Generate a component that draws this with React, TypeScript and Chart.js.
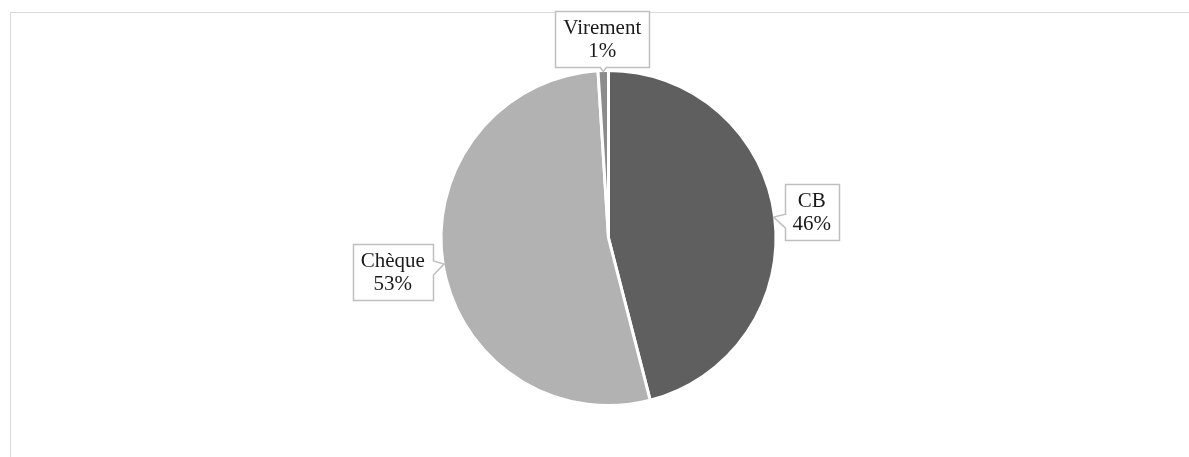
import React, { useEffect, useRef } from "react";
import { Chart, registerables } from "chart.js";

Chart.register(...registerables);

const categories = ["CB", "Chèque", "Virement"];
const values = [46, 53, 1];
const colors = ["#5f5f5f", "#b2b2b2", "#8c8c8c"];

const FONT = '21px "Liberation Serif", "Times New Roman", serif';

const calloutPlugin = {
  id: "callouts",
  afterDatasetsDraw(chart: any) {
    const ctx = chart.ctx as CanvasRenderingContext2D;
    const meta = chart.getDatasetMeta(0);
    const data = chart.data.datasets[0].data as number[];
    const total = data.reduce((a, b) => a + b, 0);
    ctx.save();
    ctx.font = FONT;
    meta.data.forEach((arc: any, i: number) => {
      const { x, y, startAngle, endAngle, outerRadius } = arc.getProps(
        ["x", "y", "startAngle", "endAngle", "outerRadius"],
        true
      );
      const mid = (startAngle + endAngle) / 2;
      const ux = Math.cos(mid);
      const uy = Math.sin(mid);
      const lines = [String(chart.data.labels[i]), Math.round((data[i] / total) * 100) + "%"];
      const tw = Math.max(...lines.map((l) => ctx.measureText(l).width));
      const lineH = 23;
      const w = Math.round(tw + 16);
      const h = lineH * lines.length + 10;
      const gap = 2 + 5 * Math.abs(ux);
      const proj = (Math.abs(ux) * w) / 2 + (Math.abs(uy) * h) / 2;
      const d = outerRadius + gap + proj;
      const bx = x + ux * d;
      const by = y + uy * d;
      const l = Math.round(bx - w / 2) + 0.5;
      const t = Math.round(by - h / 2) + 0.5;
      const r = l + w;
      const b = t + h;
      const tip = { x: x + ux * (outerRadius - 1), y: y + uy * (outerRadius - 1) };
      const dx = tip.x - bx;
      const dy = tip.y - by;
      const pts: [number, number][] = [];
      const notchW = 14;
      const clamp = (v: number, lo: number, hi: number) => Math.max(lo, Math.min(hi, v));
      if (Math.abs(dx) / (w / 2) > Math.abs(dy) / (h / 2)) {
        const y0 = clamp(tip.y - 3, t + 4, b - 4 - notchW);
        const y1 = y0 + notchW;
        if (dx < 0) {
          pts.push([l, t], [r, t], [r, b], [l, b], [l, y1], [tip.x, tip.y], [l, y0]);
        } else {
          pts.push([l, t], [r, t], [r, y0], [tip.x, tip.y], [r, y1], [r, b], [l, b]);
        }
      } else {
        const xa = clamp(tip.x - 3, l + 4, r - 8);
        const xb = xa + 6;
        if (dy < 0) {
          pts.push([l, t], [xa, t], [tip.x, tip.y], [xb, t], [r, t], [r, b], [l, b]);
        } else {
          pts.push([l, t], [r, t], [r, b], [xb, b], [tip.x, tip.y], [xa, b], [l, b]);
        }
      }
      ctx.beginPath();
      pts.forEach(([px, py], k) => (k === 0 ? ctx.moveTo(px, py) : ctx.lineTo(px, py)));
      ctx.closePath();
      ctx.fillStyle = "#ffffff";
      ctx.fill();
      ctx.lineWidth = 1.5;
      ctx.strokeStyle = "#bfbfbf";
      ctx.stroke();
      ctx.fillStyle = "#1a1a1a";
      ctx.textAlign = "center";
      ctx.textBaseline = "middle";
      const cy0 = by - ((lines.length - 1) * lineH) / 2;
      lines.forEach((txt, k) => ctx.fillText(txt, bx, cy0 + k * lineH + 1));
    });
    ctx.restore();
  },
};

export default function App() {
  const ref = useRef<HTMLCanvasElement | null>(null);
  useEffect(() => {
    if (!ref.current) return;
    const chart = new Chart(ref.current, {
      type: "pie",
      data: {
        labels: categories,
        datasets: [
          {
            data: values,
            backgroundColor: colors,
            borderColor: "#ffffff",
            borderWidth: 3,
          },
        ],
      },
      options: {
        responsive: false,
        animation: false,
        layout: { padding: { top: 69, bottom: 50, left: 228, right: 200 } },
        plugins: {
          legend: { display: false },
          tooltip: { enabled: false },
        },
      },
      plugins: [calloutPlugin],
    });
    return () => chart.destroy();
  }, []);
  return (
    <div
      style={{
        position: "absolute",
        left: 0,
        top: 0,
        width: 1189,
        height: 457,
        overflow: "hidden",
        background: "#ffffff",
      }}
    >
      <div
        style={{
          position: "absolute",
          left: 10,
          top: 12,
          width: 1300,
          height: 600,
          border: "1.5px solid #d9d9d9",
          boxSizing: "border-box",
        }}
      />
      <canvas
        ref={ref}
        width={1189}
        height={457}
        style={{ position: "absolute", left: 0, top: 0, display: "block" }}
      />
    </div>
  );
}
